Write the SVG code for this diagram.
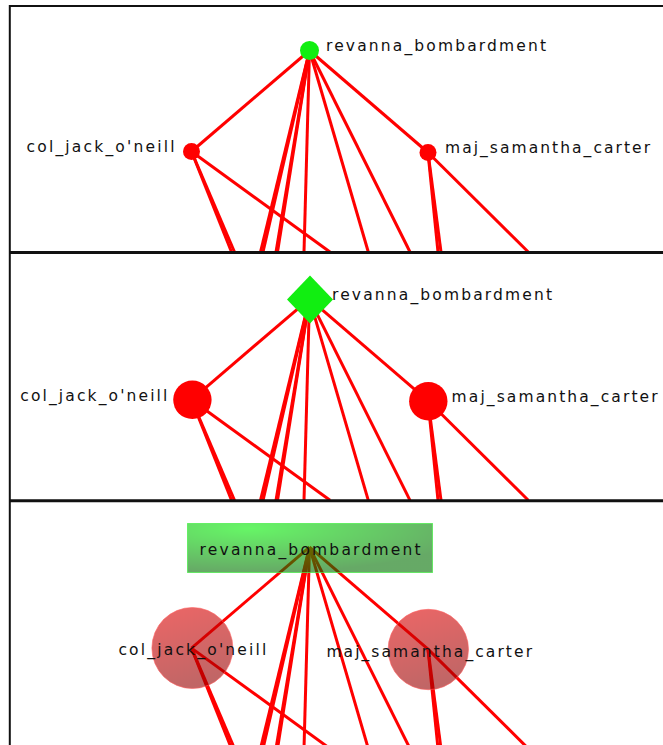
<svg xmlns="http://www.w3.org/2000/svg" xmlns:xlink="http://www.w3.org/1999/xlink" width="663" height="745" viewBox="0 0 663 745">
<style>
.lbl{font-family:"DejaVu Sans","Liberation Sans",sans-serif;font-size:15.5px;fill:#111}
.edge{stroke:#ff0000;stroke-width:3;fill:none}
.border{stroke:#111;fill:none}
.dot-red{fill:#ff0000}
.dot-green{fill:#11ee11}
.big-red{fill:url(#redGrad);fill-opacity:0.6;stroke:#ff6060;stroke-opacity:0.6;stroke-width:1}
</style>
<defs>
<linearGradient id="redGrad" x1="0" y1="0" x2="0.3" y2="1">
<stop offset="0" stop-color="#e00000"/>
<stop offset="1" stop-color="#980000"/>
</linearGradient>
<radialGradient id="greenGrad" cx="0.25" cy="0.1" r="0.9" gradientUnits="objectBoundingBox">
<stop offset="0" stop-color="#00f000"/>
<stop offset="1" stop-color="#007000"/>
</radialGradient>
<g id="edges">
<line class="edge" x1="309.5" y1="50.5" x2="191.5" y2="151.5"/>
<line class="edge" x1="309.5" y1="50.5" x2="428" y2="152.5"/>
<line class="edge" x1="309.5" y1="50.5" x2="260.5" y2="252"/>
<line class="edge" x1="309.5" y1="50.5" x2="263" y2="252"/>
<line class="edge" x1="309.5" y1="50.5" x2="276" y2="252"/>
<line class="edge" x1="309.5" y1="50.5" x2="277.5" y2="252"/>
<line class="edge" x1="309.5" y1="50.5" x2="304" y2="252"/>
<line class="edge" x1="309.5" y1="50.5" x2="368.3" y2="252"/>
<line class="edge" x1="309.5" y1="50.5" x2="410" y2="252"/>
<line class="edge" x1="191.5" y1="151.5" x2="231.5" y2="252"/>
<line class="edge" x1="191.5" y1="151.5" x2="234.5" y2="252"/>
<line class="edge" x1="191.5" y1="151.5" x2="330" y2="252"/>
<line class="edge" x1="428" y1="152.5" x2="438" y2="252"/>
<line class="edge" x1="428" y1="152.5" x2="441" y2="252"/>
<line class="edge" x1="428" y1="152.5" x2="528.3" y2="252"/>
</g>
</defs>
<rect x="0" y="0" width="663" height="745" fill="#ffffff"/>
<g id="connectors">
<use xlink:href="#edges"/>
<use xlink:href="#edges" transform="translate(0,248.3)"/>
<use xlink:href="#edges" transform="translate(0,496.6)"/>
</g>
<g id="borders">
<line class="border" x1="9" y1="6" x2="663" y2="6" stroke-width="2"/>
<line class="border" x1="9.8" y1="5" x2="9.8" y2="745" stroke-width="2"/>
<line class="border" x1="9" y1="252.5" x2="663" y2="252.5" stroke-width="3"/>
<line class="border" x1="9" y1="500.8" x2="663" y2="500.8" stroke-width="3"/>
</g>
<!-- panel 1 -->
<g id="p1-revanna_bombardment">
<circle class="dot-green" cx="309.5" cy="50.5" r="9.5"/>
<text class="lbl" x="326" y="51" textLength="220" lengthAdjust="spacing">revanna_bombardment</text>
</g>
<g id="p1-col_jack_oneill">
<circle class="dot-red" cx="191.5" cy="151.5" r="8.5"/>
<text class="lbl" x="26.5" y="152" textLength="148" lengthAdjust="spacing">col_jack_o'neill</text>
</g>
<g id="p1-maj_samantha_carter">
<circle class="dot-red" cx="428" cy="152.5" r="8.5"/>
<text class="lbl" x="445" y="153" textLength="205" lengthAdjust="spacing">maj_samantha_carter</text>
</g>
<!-- panel 2 -->
<g id="p2-revanna_bombardment">
<polygon class="dot-green" points="310,275.5 333,299.5 310,323.5 287,299.5"/>
<text class="lbl" x="332" y="299.5" textLength="220" lengthAdjust="spacing">revanna_bombardment</text>
</g>
<g id="p2-col_jack_oneill">
<circle class="dot-red" cx="192.4" cy="399.8" r="19.2"/>
<text class="lbl" x="20.3" y="401" textLength="147" lengthAdjust="spacing">col_jack_o'neill</text>
</g>
<g id="p2-maj_samantha_carter">
<circle class="dot-red" cx="428.3" cy="401.2" r="19.2"/>
<text class="lbl" x="451.6" y="402" textLength="206" lengthAdjust="spacing">maj_samantha_carter</text>
</g>
<!-- panel 3 -->
<g id="p3-revanna_bombardment">
<rect x="187.5" y="523.5" width="245" height="49" fill="url(#greenGrad)" fill-opacity="0.6" stroke="#44ee44" stroke-opacity="0.7" stroke-width="1"/>
<text class="lbl" x="199.6" y="554.5" textLength="221" lengthAdjust="spacing">revanna_bombardment</text>
</g>
<g id="p3-col_jack_oneill">
<circle class="big-red" cx="192.4" cy="648" r="40.5"/>
<text class="lbl" x="118.4" y="655" textLength="148" lengthAdjust="spacing">col_jack_o'neill</text>
</g>
<g id="p3-maj_samantha_carter">
<circle class="big-red" cx="428.3" cy="649.5" r="40.2"/>
<text class="lbl" x="326.4" y="657" textLength="205.6" lengthAdjust="spacing">maj_samantha_carter</text>
</g>
</svg>
